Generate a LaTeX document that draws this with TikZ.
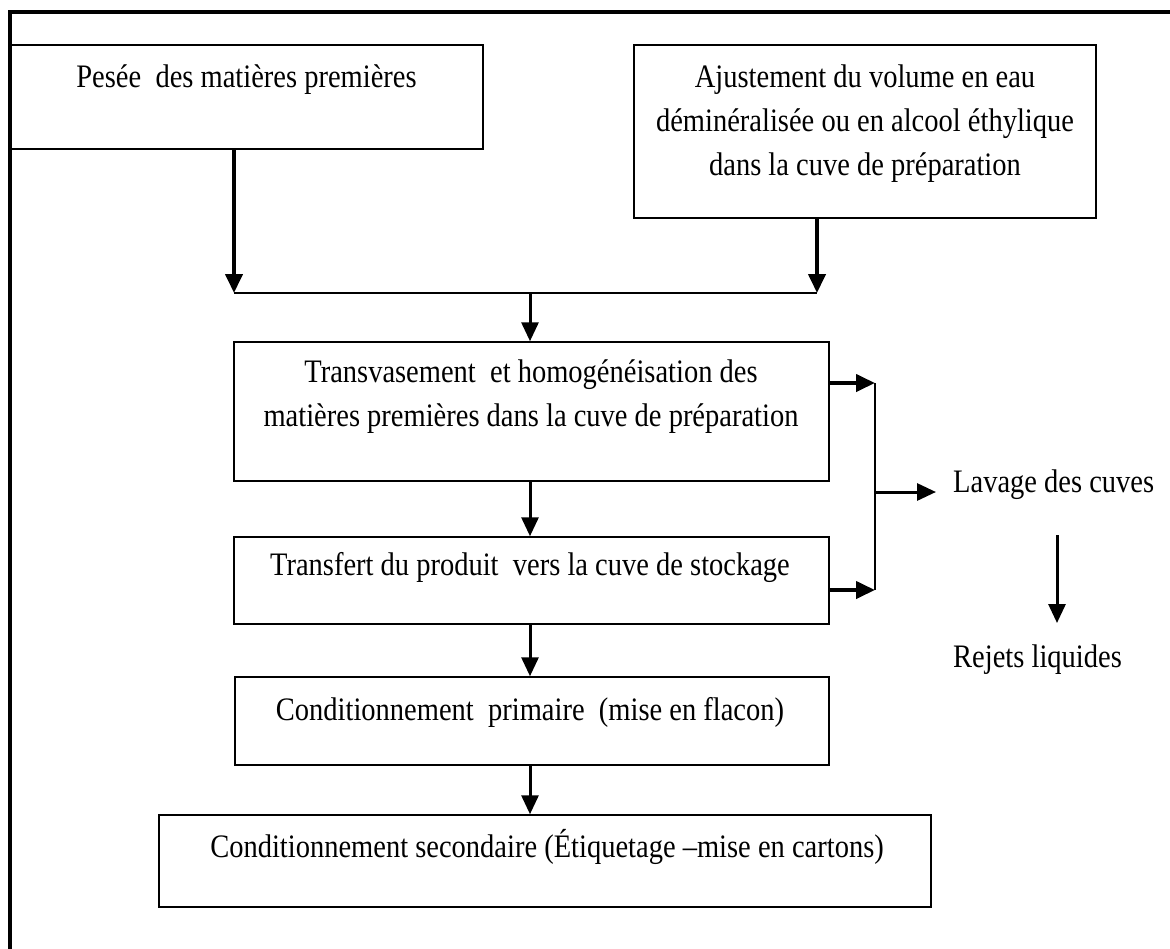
\documentclass[tikz,border=0pt]{standalone}
\usepackage{fontspec}
\setmainfont{Liberation Serif}
\usepackage{graphicx}
\usetikzlibrary{arrows.meta}
\newcommand{\stxt}[1]{\scalebox{1}[1.15]{\begin{tabular}[t]{@{}c@{}}#1\end{tabular}}}
\tikzset{
  box/.style={draw, rectangle, line width=1.5pt, inner sep=0pt},
  lbl/.style={inner sep=0pt, anchor=base, font=\fontsize{28.5}{38.3}\selectfont},
  lblw/.style={inner sep=0pt, anchor=base west, font=\fontsize{28.5}{38.3}\selectfont},
  thinline/.style={line width=1.5pt},
  flow/.style={line width=3pt, -{Triangle[length=19pt,width=17pt]}},
  heavyflow/.style={line width=4pt, -{Triangle[length=19pt,width=17pt]}},
  frameline/.style={line width=3.5pt},
}
\begin{document}
\begin{tikzpicture}[x=1pt, y=-1pt]
\useasboundingbox (0,0) rectangle (1170,948);
% boxes
\node[box, minimum width=473pt, minimum height=104pt] (pesee) at (246.5,97) {};
\node[box, minimum width=462pt, minimum height=173pt] (ajust) at (865,131.5) {};
\node[box, minimum width=595pt, minimum height=139pt] (trans) at (531.5,411.5) {};
\node[box, minimum width=595pt, minimum height=87pt] (transf) at (531.5,580.5) {};
\node[box, minimum width=594pt, minimum height=88pt] (prim) at (532,721) {};
\node[box, minimum width=772pt, minimum height=92pt] (sec) at (545,861) {};
% texts
\node[lbl] (peseeT) at (246.5,87) {\stxt{Pesée\ \ des matières premières}};
\node[lbl] (ajustT) at (865,87) {\stxt{Ajustement du volume en eau\\déminéralisée ou en alcool éthylique\\dans la cuve de préparation}};
\node[lbl] (transT) at (531,382) {\stxt{Transvasement\ \ et homogénéisation des\\matières premières dans la cuve de préparation}};
\node[lbl] (transfT) at (530,575) {\stxt{Transfert du produit\ \ vers la cuve de stockage}};
\node[lbl] (primT) at (530,720) {\stxt{Conditionnement\ \ primaire\ \ (mise en flacon)}};
\node[lbl] (secT) at (547,857) {\stxt{Conditionnement secondaire (Étiquetage –mise en cartons)}};
\node[lblw] (lavage) at (953,492) {\stxt{Lavage des cuves}};
\node[lblw] (rejets) at (953,667) {\stxt{Rejets liquides}};
% junction points
\coordinate (j1) at (234,293);
\coordinate (j2) at (817,293);
\coordinate (jc) at (530,293);
\coordinate (b1) at (875,383);
\coordinate (b2) at (875,590);
\coordinate (bm) at (875,492);
\coordinate (r1) at (1057,535);
\coordinate (r2) at (1057,623);
% connectors
\draw[heavyflow] (pesee.south -| j1) -- (j1);
\draw[heavyflow] (ajust.south -| j2) -- (j2);
\draw[thinline] (j1) -- (j2);
\draw[flow] (jc) -- (trans.north -| jc);
\draw[flow] (trans.south -| jc) -- (transf.north -| jc);
\draw[flow] (transf.south -| jc) -- (prim.north -| jc);
\draw[flow] (prim.south -| jc) -- (sec.north -| jc);
\draw[heavyflow] (trans.east |- b1) -- (b1);
\draw[heavyflow] (transf.east |- b2) -- (b2);
\draw[thinline] (b1) -- (b2);
\draw[flow, shorten >=17pt] (bm) -- (bm -| lavage.west);
\draw[flow] (r1) -- (r2);
% outer frame
\draw[frameline] (1175,12) -- (10,12) -- (10,955);
\end{tikzpicture}
\end{document}
